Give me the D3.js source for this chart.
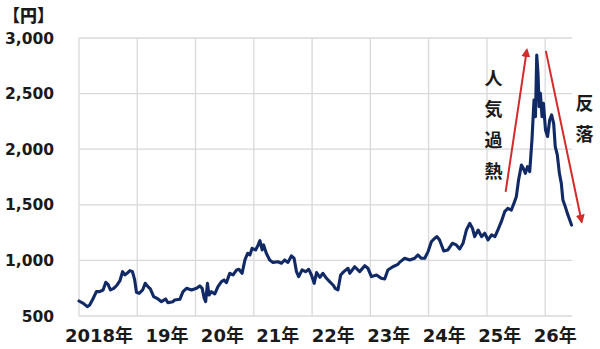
<!DOCTYPE html>
<html><head><meta charset="utf-8">
<script src="https://cdn.jsdelivr.net/npm/d3@7"></script>
<style>body{margin:0;background:#fff;} svg{display:block;}</style>
</head><body>
<svg id="c" width="600" height="349"></svg>
<script>
const dates = ["2018-01-01","2018-01-28","2018-02-22","2018-03-09","2018-03-29","2018-04-20","2018-05-10","2018-06-01","2018-06-18","2018-07-02","2018-07-17","2018-08-07","2018-08-28","2018-09-14","2018-10-01","2018-10-15","2018-10-29","2018-11-16","2018-12-02","2018-12-16","2018-12-27",
"2019-01-13","2019-02-04","2019-02-20","2019-03-09","2019-03-24","2019-04-14","2019-05-11","2019-06-02","2019-06-28","2019-07-12","2019-08-13","2019-08-24","2019-09-25","2019-10-15","2019-11-06","2019-12-07",
"2020-01-08","2020-01-28","2020-02-12","2020-02-25","2020-03-05","2020-03-16","2020-03-26","2020-04-10","2020-05-01","2020-05-21","2020-06-12","2020-06-28","2020-07-13","2020-08-03","2020-08-24","2020-09-15","2020-09-29","2020-10-19","2020-11-06","2020-11-23","2020-12-07","2020-12-21",
"2021-01-12","2021-01-28","2021-02-08","2021-02-22","2021-03-03","2021-03-20","2021-04-10","2021-05-01","2021-06-01","2021-06-23","2021-07-13","2021-08-03","2021-08-24","2021-09-10","2021-09-25","2021-10-09","2021-10-30","2021-11-21","2021-12-11","2021-12-28",
"2022-01-14","2022-01-29","2022-02-19","2022-03-10","2022-04-01","2022-04-21","2022-05-12","2022-05-26","2022-06-12","2022-06-29","2022-07-19","2022-08-14","2022-08-25","2022-09-25","2022-10-26","2022-11-27","2022-12-17",
"2023-01-08","2023-02-09","2023-03-10","2023-04-01","2023-04-21","2023-05-22","2023-06-23","2023-07-03","2023-08-04","2023-09-05","2023-10-06","2023-10-26","2023-11-17","2023-12-08","2023-12-29",
"2024-01-19","2024-02-09","2024-02-23","2024-03-10","2024-04-05","2024-05-01","2024-05-29","2024-06-23","2024-07-14","2024-08-04","2024-08-25","2024-09-15","2024-10-02","2024-10-16","2024-11-07","2024-11-28","2024-12-18",
"2025-01-08","2025-01-30","2025-02-20","2025-03-10","2025-04-01","2025-04-22","2025-05-12","2025-06-03","2025-06-19","2025-07-04","2025-07-18","2025-08-05","2025-08-17","2025-08-30","2025-09-12","2025-09-26","2025-10-10","2025-10-23","2025-11-01","2025-11-09","2025-11-17","2025-11-24","2025-12-02","2025-12-12","2025-12-21",
"2026-01-03","2026-01-16","2026-01-29","2026-02-10","2026-02-23","2026-03-05","2026-03-18","2026-03-31","2026-04-12","2026-04-22","2026-05-07","2026-05-20","2026-06-04","2026-06-15"];
const prices = [635,614,584,599,653,719,719,734,803,785,734,749,779,815,899,869,884,908,899,824,713,
704,734,794,764,743,674,653,629,653,620,629,644,650,719,749,734,
749,770,749,659,629,794,689,719,698,764,809,824,800,884,869,914,920,884,1004,1064,1049,1109,
1094,1139,1178,1094,1139,1064,1004,982,988,974,1004,982,1040,1019,899,854,914,899,920,869,
794,890,848,884,839,809,779,749,734,869,899,929,884,943,899,952,929,
854,869,839,833,914,943,964,982,1019,1004,1019,1049,1019,1019,1079,
1169,1199,1214,1184,1085,1094,1154,1139,1103,1154,1273,1333,1289,1214,1273,1214,1244,
1184,1229,1214,1273,1348,1438,1468,1453,1513,1573,1723,1858,1828,1783,1843,1798,2083,2443,2293,2847,2682,2382,2502,2293,2412,
2173,2113,2263,2308,2233,2023,1948,1783,1693,1543,1483,1423,1363,1318];
const yTicks = [500,1000,1500,2000,2500,3000];
const yearTicks = ["2018-01-01","2019-01-01","2020-01-01","2021-01-01","2022-01-01","2023-01-01","2024-01-01","2025-01-01","2026-01-01"];
const xLabels = ["2018年","19年","20年","21年","22年","23年","24年","25年","26年"];
const unitLabel = "【円】";
const upWords = ["人","気","過","熱"];
const downWords = ["反","落"];
// arrow annotations in data terms [date, value]
const upArrow = [["2025-04-28",1616],["2025-09-08",2894]];
const downArrow = [["2026-01-05",2884],["2026-08-18",1346]];

const parse = d3.timeParse("%Y-%m-%d");
const W = 600, H = 349, m = {l:79, r:28, t:38, b:33};
const svg = d3.select("#c");
const x = d3.scaleTime().domain([parse("2018-01-01"), parse("2026-06-18")]).range([m.l, W - m.r]);
const y = d3.scaleLinear().domain([500, 3000]).range([H - m.b, m.t]);
const labelX = d3.scaleLinear().domain([0, xLabels.length - 1]).range([133, 576.7]);

const fontNum = "'DejaVu Sans','Noto Sans CJK JP',sans-serif";
const fontJP = "'Noto Sans CJK JP',sans-serif";

// grid
const g = svg.append("g");
g.selectAll("line.h").data(yTicks).join("line")
  .attr("x1", m.l).attr("x2", W - m.r)
  .attr("y1", d => y(d)).attr("y2", d => y(d))
  .attr("stroke", "#d9d9d9").attr("stroke-width", 1.3);
g.selectAll("line.v").data(yearTicks).join("line")
  .attr("x1", d => x(parse(d))).attr("x2", d => x(parse(d)))
  .attr("y1", y(3000)).attr("y2", y(500))
  .attr("stroke", "#d9d9d9").attr("stroke-width", 1.3);

// y labels
svg.append("g").selectAll("text").data(yTicks).join("text")
  .attr("x", 54).attr("y", d => y(d)).attr("dy", "0.36em")
  .attr("text-anchor", "end").attr("font-family", fontNum)
  .attr("font-weight", "bold").attr("font-size", 15.5).attr("fill", "#1a1a1a")
  .text(d => d3.format(",")(d));

// x labels
svg.append("g").selectAll("text").data(xLabels).join("text")
  .attr("x", (d, i) => labelX(i)).attr("y", 341.5)
  .attr("text-anchor", "end").attr("font-family", fontNum)
  .attr("font-weight", "bold").attr("font-size", 18).attr("fill", "#1a1a1a")
  .text(d => d);

// unit
svg.append("text").attr("x", 3).attr("y", 22)
  .attr("font-family", fontJP).attr("font-weight", "900").attr("font-size", 17)
  .attr("fill", "#1a1a1a").text(unitLabel);

// line
const series = dates.map((d, i) => ({date: parse(d), v: prices[i]}));
svg.append("path").datum(series)
  .attr("fill", "none").attr("stroke", "#112a66").attr("stroke-width", 3.1)
  .attr("stroke-linejoin", "round").attr("stroke-linecap", "round")
  .attr("d", d3.line().x(d => x(d.date)).y(d => y(d.v)));

// arrows
const defs = svg.append("defs");
defs.append("marker").attr("id", "ah").attr("viewBox", "0 0 10 10")
  .attr("refX", 8).attr("refY", 5).attr("markerWidth", 4.5).attr("markerHeight", 4.5)
  .attr("orient", "auto").attr("markerUnits", "strokeWidth")
  .append("path").attr("d", "M0,0L10,5L0,10z").attr("fill", "#d42a2a");
[upArrow, downArrow].forEach(a => {
  svg.append("line")
    .attr("x1", x(parse(a[0][0]))).attr("y1", y(a[0][1]))
    .attr("x2", x(parse(a[1][0]))).attr("y2", y(a[1][1]))
    .attr("stroke", "#d42a2a").attr("stroke-width", 2)
    .attr("marker-end", "url(#ah)");
});

// vertical annotations
svg.append("g").selectAll("text").data(upWords).join("text")
  .attr("x", 493.5).attr("y", (d, i) => 79 + i * 30.7).attr("dy", "0.36em")
  .attr("text-anchor", "middle").attr("font-family", fontJP)
  .attr("font-weight", "bold").attr("font-size", 18).attr("fill", "#1a1a1a")
  .text(d => d);
svg.append("g").selectAll("text").data(downWords).join("text")
  .attr("x", 584.5).attr("y", (d, i) => 104 + i * 31).attr("dy", "0.36em")
  .attr("text-anchor", "middle").attr("font-family", fontJP)
  .attr("font-weight", "bold").attr("font-size", 18).attr("fill", "#1a1a1a")
  .text(d => d);
</script>
</body></html>
